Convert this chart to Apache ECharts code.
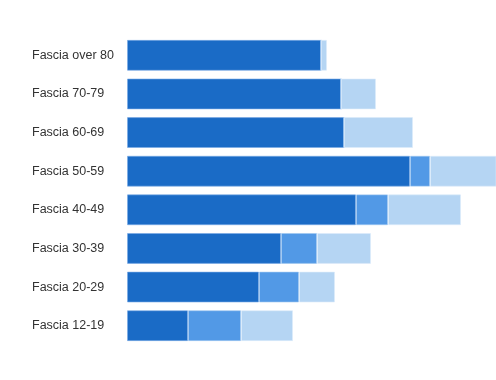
<!DOCTYPE html>
<html>
<head>
<meta charset="utf-8">
<script src="https://cdn.jsdelivr.net/npm/echarts@6/dist/echarts.min.js"></script>
<style>html,body{margin:0;padding:0;background:#fff}#c{width:496px;height:380px}</style>
</head>
<body>
<div id="c"></div>
<script>
var categories = ["Fascia over 80","Fascia 70-79","Fascia 60-69","Fascia 50-59","Fascia 40-49","Fascia 30-39","Fascia 20-29","Fascia 12-19"];
var seriesDark = [194, 214, 217, 283, 229, 154, 132, 61];
var seriesMid = [0, 0, 0, 20, 32, 36, 40, 53];
var seriesLight = [6, 35, 69, 100, 73, 54, 36, 52];

var chart = echarts.init(document.getElementById('c'), null, {renderer: 'canvas'});
function mk(name, data, color, border) {
  return {
    name: name, type: 'bar', stack: 'total', data: data,
    barCategoryGap: '20%',
    itemStyle: {color: color, borderColor: border, borderWidth: 1},
    emphasis: {disabled: true}
  };
}
chart.setOption({
  animation: false,
  grid: {left: 127, top: 36, right: 0, height: 309, containLabel: false},
  xAxis: {type: 'value', min: 0, max: 369, show: false},
  yAxis: {
    type: 'category', data: categories, inverse: true,
    axisLine: {show: false}, axisTick: {show: false}, splitLine: {show: false},
    axisLabel: {align: 'left', margin: 95, color: '#333', fontSize: 12.5, fontFamily: 'Liberation Sans, Arial, sans-serif'}
  },
  series: [
    mk('A', seriesDark, '#1a6bc6', 'rgba(120,170,230,0.6)'),
    mk('B', seriesMid, '#5299e6', 'rgba(160,200,240,0.6)'),
    mk('C', seriesLight, '#b5d5f3', 'rgba(220,235,250,0.6)')
  ]
});
</script>
</body>
</html>
